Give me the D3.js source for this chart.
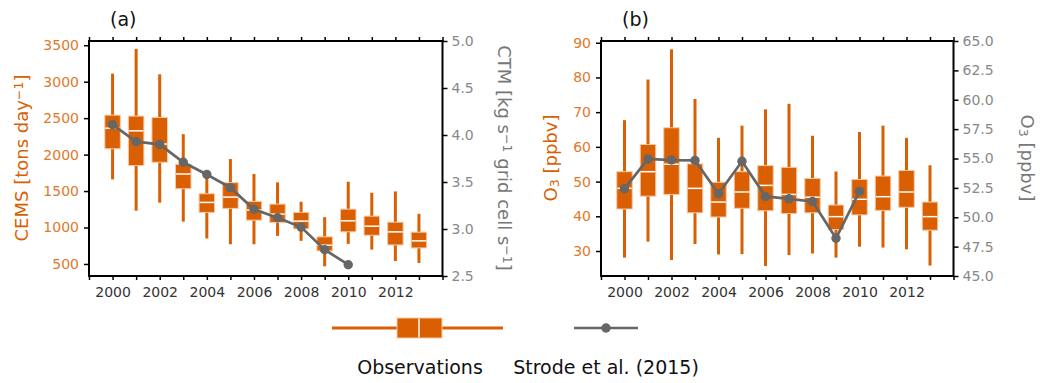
<!DOCTYPE html>
<html>
<head>
<meta charset="utf-8">
<script src="https://cdn.jsdelivr.net/npm/d3@7"></script>
<style>
  body { margin: 0; background: #fff; }
  svg { font-family: "DejaVu Sans", sans-serif; }
</style>
</head>
<body>
<svg id="chart" width="1045" height="383"></svg>
<script>

// observation years (boxes) and tick years
var years = [2000, 2001, 2002, 2003, 2004, 2005, 2006, 2007, 2008, 2009, 2010, 2011, 2012, 2013];
var tickYears = [1999, 2000, 2001, 2002, 2003, 2004, 2005, 2006, 2007, 2008, 2009, 2010, 2011, 2012, 2013, 2014];
var labelYears = [2000, 2002, 2004, 2006, 2008, 2010, 2012];

// (a) CEMS NOx emissions box stats [tons day-1]
var cemsLow  = [1660, 1230, 1340, 1080, 850, 770, 770, 885, 817, 468, 776, 697, 541, 514];
var cemsQ1   = [2080, 1850, 1895, 1532, 1207, 1262, 1101, 1069, 982, 679, 941, 894, 761, 720];
var cemsMed  = [2362, 2326, 2145, 1734, 1344, 1417, 1239, 1184, 1088, 757, 1092, 1018, 940, 817];
var cemsQ3   = [2541, 2528, 2509, 1867, 1463, 1615, 1358, 1321, 1207, 872, 1252, 1156, 1073, 936];
var cemsHigh = [3110, 3450, 3101, 2280, 1680, 1939, 1734, 1619, 1353, 1142, 1628, 1477, 1495, 1188];

// (a) CTM emissions, Strode et al. (2015)
var ctmYears  = [2000, 2001, 2002, 2003, 2004, 2005, 2006, 2007, 2008, 2009, 2010];
var ctmValues = [4.11, 3.93, 3.90, 3.71, 3.58, 3.44, 3.21, 3.12, 3.02, 2.78, 2.62];

// (b) observed O3 box stats [ppbv]
var o3Low  = [28.1, 32.7, 27.4, 32.0, 29.0, 29.1, 25.7, 28.85, 29.3, 28.1, 31.25, 31.0, 30.5, 25.8];
var o3Q1   = [42.1, 45.8, 46.3, 41.0, 39.8, 42.3, 41.6, 40.8, 41.0, 36.2, 40.4, 41.7, 42.6, 36.0];
var o3Med  = [48.05, 52.85, 55.0, 48.05, 44.1, 47.0, 48.9, 46.3, 45.5, 39.9, 44.9, 45.65, 47.0, 39.9];
var o3Q3   = [52.85, 60.7, 65.5, 55.1, 49.8, 52.85, 54.6, 54.1, 50.9, 43.25, 50.6, 51.6, 53.2, 44.1];
var o3High = [67.7, 79.4, 88.1, 73.8, 62.6, 66.1, 70.8, 72.4, 63.2, 52.9, 64.3, 66.1, 62.6, 54.7];

// (b) modelled O3, Strode et al. (2015)
var modelYears = [2000, 2001, 2002, 2003, 2004, 2005, 2006, 2007, 2008, 2009, 2010];
var modelO3    = [52.43, 54.96, 54.87, 54.84, 52.0, 54.76, 51.77, 51.57, 51.34, 48.21, 52.2];

var orange = "#d95f02",
    grey = "#666666";

var svg = d3.select("#chart");

function supText(sel, parts) {
  // parts: [text, mode] with mode "", "sup" or "sub"
  parts.forEach(function(p) {
    var t = sel.append("tspan").text(p[0]);
    if (p[1] === "sup") t.attr("baseline-shift", "40%").attr("font-size", "0.7em");
    if (p[1] === "sub") t.attr("baseline-shift", "-12%").attr("font-size", "0.7em");
  });
}

function drawPanel(cfg) {
  var top = 41, bottom = 276;
  var x = d3.scaleLinear().domain([1999, 2014]).range([cfg.left, cfg.right]);
  var yL = d3.scaleLinear().domain(cfg.leftDomain).range([bottom, top]);
  var yR = d3.scaleLinear().domain(cfg.rightDomain).range([bottom, top]);
  var g = svg.append("g");
  var boxW = 15.5;

  // bottom and top year ticks
  var xb = g.append("g").attr("transform", "translate(0," + bottom + ")")
    .call(d3.axisBottom(x).tickValues(tickYears).tickSize(4).tickSizeOuter(0).tickPadding(7)
      .tickFormat(function(d) { return labelYears.indexOf(d) >= 0 ? d : ""; }));
  var xt = g.append("g").attr("transform", "translate(0," + top + ")")
    .call(d3.axisTop(x).tickValues(tickYears).tickSize(4).tickSizeOuter(0).tickFormat(""));

  var al = g.append("g").attr("transform", "translate(" + cfg.left + ",0)")
    .call(d3.axisLeft(yL).tickValues(cfg.leftTicks).tickSize(5).tickSizeOuter(0).tickPadding(5)
      .tickFormat(d3.format("d")));
  var ar = g.append("g").attr("transform", "translate(" + cfg.right + ",0)")
    .call(d3.axisRight(yR).tickValues(cfg.rightTicks).tickSize(5).tickSizeOuter(0).tickPadding(4)
      .tickFormat(d3.format(".1f")));

  [xb, xt, al, ar].forEach(function(a) {
    a.select(".domain").remove();
    a.selectAll(".tick line").attr("stroke", "#000").attr("stroke-width", 1.5);
    a.selectAll("text").attr("font-size", 14).attr("font-family", "DejaVu Sans");
  });
  xb.selectAll("text").attr("fill", "#333");
  al.selectAll("text").attr("fill", "#e2782a");
  ar.selectAll("text").attr("fill", "#888");

  // boxes
  var box = g.selectAll(".box").data(years).enter().append("g");
  box.append("line")
    .attr("x1", function(d) { return x(d); })
    .attr("x2", function(d) { return x(d); })
    .attr("y1", function(d, i) { return yL(cfg.low[i]); })
    .attr("y2", function(d, i) { return yL(cfg.high[i]); })
    .attr("stroke", orange).attr("stroke-width", 3);
  box.append("rect")
    .attr("x", function(d) { return x(d) - boxW / 2; })
    .attr("width", boxW)
    .attr("y", function(d, i) { return yL(cfg.q3[i]); })
    .attr("height", function(d, i) { return yL(cfg.q1[i]) - yL(cfg.q3[i]); })
    .attr("fill", orange)
    .attr("stroke", "#f7c9a6").attr("stroke-width", 1);
  box.append("line")
    .attr("x1", function(d) { return x(d) - boxW / 2 + 0.5; })
    .attr("x2", function(d) { return x(d) + boxW / 2 - 0.5; })
    .attr("y1", function(d, i) { return yL(cfg.med[i]); })
    .attr("y2", function(d, i) { return yL(cfg.med[i]); })
    .attr("stroke", "#fff").attr("stroke-width", 1.5);

  // model line
  var line = d3.line()
    .x(function(d) { return x(d[0]); })
    .y(function(d) { return yR(d[1]); });
  var pts = cfg.modelYears.map(function(d, i) { return [d, cfg.model[i]]; });
  g.append("path").datum(pts).attr("d", line)
    .attr("fill", "none").attr("stroke", grey).attr("stroke-width", 2.7);
  g.selectAll(".dot").data(pts).enter().append("circle")
    .attr("cx", function(d) { return x(d[0]); })
    .attr("cy", function(d) { return yR(d[1]); })
    .attr("r", 4.7).attr("fill", grey);

  // frame
  g.append("rect").attr("x", cfg.left).attr("y", top)
    .attr("width", cfg.right - cfg.left).attr("height", bottom - top)
    .attr("fill", "none").attr("stroke", "#000").attr("stroke-width", 2);

  // labels
  g.append("text").attr("x", cfg.left + 21).attr("y", 26)
    .attr("font-size", 19).attr("fill", "#111").text(cfg.tag);

  var ll = g.append("text")
    .attr("transform", "translate(" + cfg.leftLabelX + ",158) rotate(-90)")
    .attr("text-anchor", "middle").attr("font-size", 18).attr("fill", orange);
  supText(ll, cfg.leftLabel);

  var rl = g.append("text")
    .attr("transform", "translate(" + cfg.rightLabelX + ",158) rotate(90)")
    .attr("text-anchor", "middle").attr("font-size", 18).attr("fill", "#777");
  supText(rl, cfg.rightLabel);
}

drawPanel({
  left: 89, right: 442.5, tag: "(a)",
  leftDomain: [335, 3558], rightDomain: [2.5, 5.0],
  leftTicks: [500, 1000, 1500, 2000, 2500, 3000, 3500],
  rightTicks: [2.5, 3.0, 3.5, 4.0, 4.5, 5.0],
  low: cemsLow, q1: cemsQ1, med: cemsMed, q3: cemsQ3, high: cemsHigh,
  modelYears: ctmYears, model: ctmValues,
  leftLabelX: 28, rightLabelX: 498,
  leftLabel: [["CEMS [tons day", ""], ["\u22121", "sup"], ["]", ""]],
  rightLabel: [["CTM [kg s", ""], ["\u22121", "sup"], [" grid cell s", ""], ["\u22121", "sup"], ["]", ""]]
});

drawPanel({
  left: 601, right: 953.5, tag: "(b)",
  leftDomain: [22.8, 90.5], rightDomain: [45, 65],
  leftTicks: [30, 40, 50, 60, 70, 80, 90],
  rightTicks: [45, 47.5, 50, 52.5, 55, 57.5, 60, 62.5, 65],
  low: o3Low, q1: o3Q1, med: o3Med, q3: o3Q3, high: o3High,
  modelYears: modelYears, model: modelO3,
  leftLabelX: 557, rightLabelX: 1021,
  leftLabel: [["O", ""], ["3", "sub"], [" [ppbv]", ""]],
  rightLabel: [["O", ""], ["3", "sub"], [" [ppbv]", ""]]
});

// legend
var leg = svg.append("g");
leg.append("line").attr("x1", 332).attr("x2", 503).attr("y1", 328).attr("y2", 328)
  .attr("stroke", orange).attr("stroke-width", 3);
leg.append("rect").attr("x", 397).attr("y", 318).attr("width", 45).attr("height", 20)
  .attr("fill", orange).attr("stroke", "#f7c9a6").attr("stroke-width", 1);
leg.append("line").attr("x1", 419).attr("x2", 419).attr("y1", 318.5).attr("y2", 337.5)
  .attr("stroke", "#fff").attr("stroke-width", 1.5);
leg.append("line").attr("x1", 574).attr("x2", 638).attr("y1", 328).attr("y2", 328)
  .attr("stroke", grey).attr("stroke-width", 2.7);
leg.append("circle").attr("cx", 606).attr("cy", 328).attr("r", 4.7).attr("fill", grey);
leg.append("text").attr("x", 420).attr("y", 374).attr("text-anchor", "middle")
  .attr("font-size", 19).attr("fill", "#111").text("Observations");
leg.append("text").attr("x", 606).attr("y", 374).attr("text-anchor", "middle")
  .attr("font-size", 19).attr("fill", "#111").text("Strode et al. (2015)");

</script>
</body>
</html>
